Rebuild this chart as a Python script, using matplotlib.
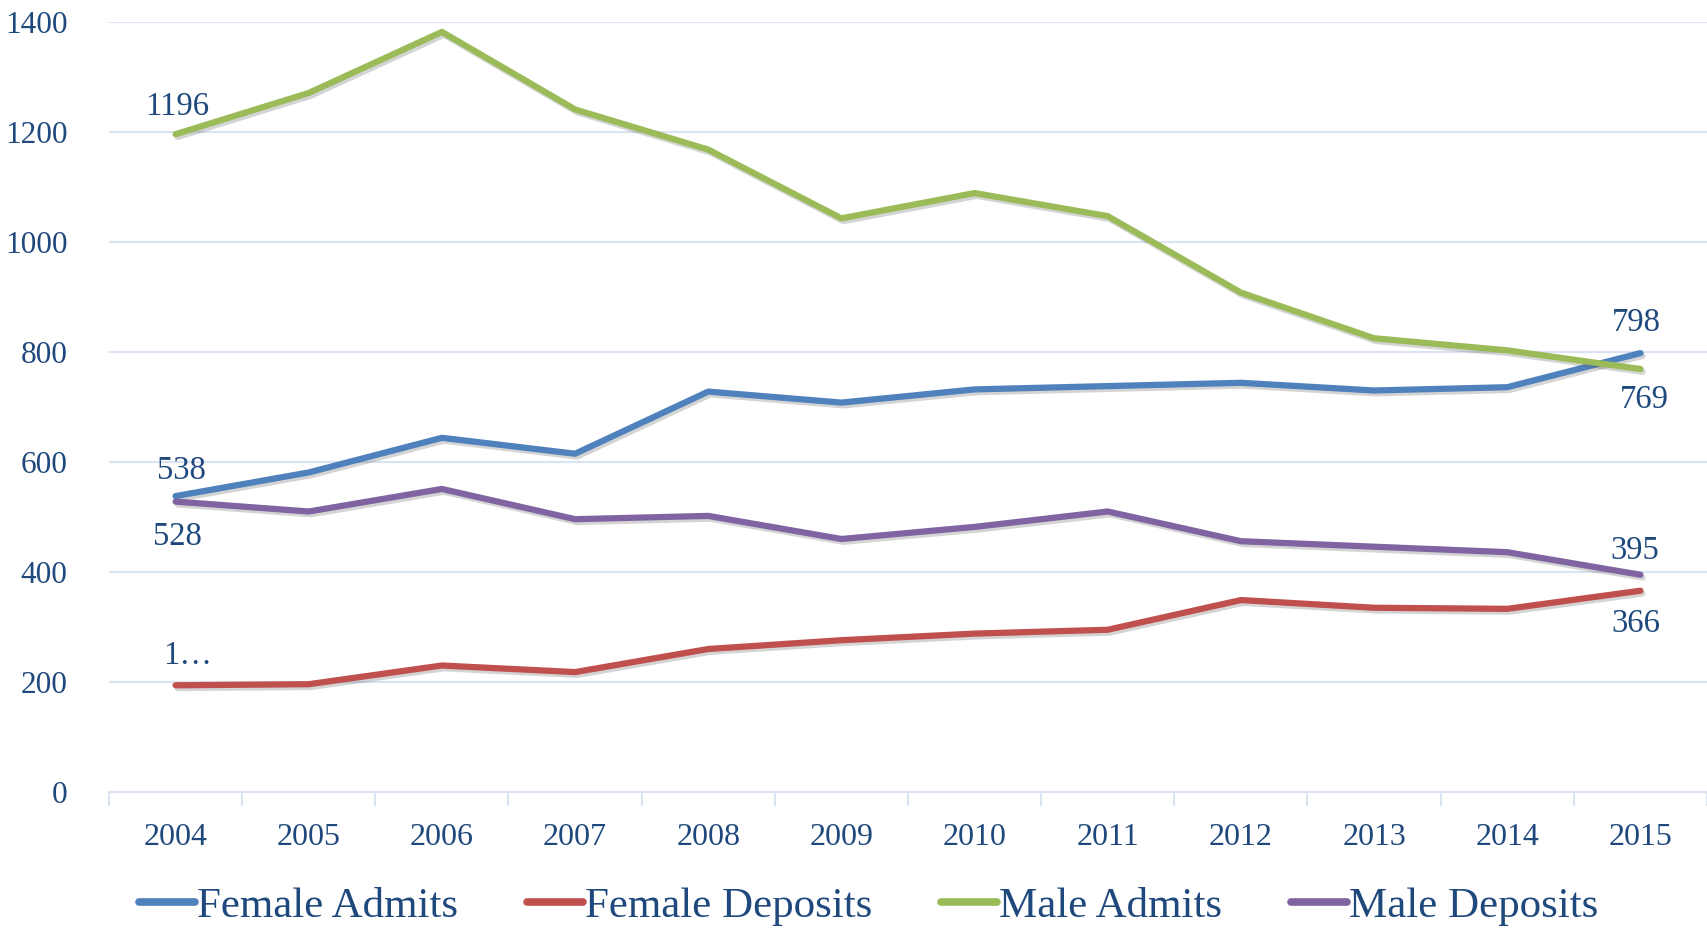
import numpy as np
import matplotlib
matplotlib.use('Agg')
import matplotlib.pyplot as plt
import matplotlib.patheffects as pe

# Data
years = ['2004', '2005', '2006', '2007', '2008', '2009', '2010', '2011', '2012', '2013', '2014', '2015']
female_admits = [538, 581, 644, 615, 728, 708, 732, 738, 744, 730, 736, 798]
female_deposits = [194, 196, 230, 218, 260, 276, 288, 295, 349, 335, 333, 366]
male_admits = [1196, 1271, 1382, 1241, 1168, 1043, 1089, 1047, 908, 825, 803, 769]
male_deposits = [528, 510, 551, 496, 502, 460, 482, 510, 456, 446, 436, 395]

series_names = ['Female Admits', 'Female Deposits', 'Male Admits', 'Male Deposits']
series_colors = ['#4F81BD', '#C0504D', '#9BBB59', '#8064A2']
text_color = '#1F497D'
grid_color = '#D9E3F1'

plt.rcParams['font.family'] = ['Liberation Serif', 'DejaVu Serif']

fig = plt.figure(figsize=(17.07, 9.30), dpi=100)
ax = fig.add_axes([109 / 1707, 1 - 792 / 930, 1 - 109 / 1707, (792 - 22) / 930])

x = np.arange(len(years))
shadow = [pe.SimpleLineShadow(offset=(1.5, -2), shadow_color='#555555', alpha=0.25), pe.Normal()]
all_series = [female_admits, female_deposits, male_admits, male_deposits]
for vals, name, col in zip(all_series, series_names, series_colors):
    ax.plot(x, vals, color=col, linewidth=4.5, label=name, solid_capstyle='round',
            solid_joinstyle='round', path_effects=shadow, zorder=3)

ax.set_xlim(-0.5, len(years) - 0.5)
ax.set_ylim(0, 1400)
ax.set_yticks(range(0, 1401, 200))
ax.yaxis.grid(True, color=grid_color, linewidth=1.5)
ax.set_axisbelow(True)

ax.set_xticks(x)
ax.set_xticklabels(years)
ax.set_xticks(np.arange(-0.5, len(years), 1), minor=True)
ax.tick_params(axis='x', which='major', length=0, pad=22, labelsize=23, labelcolor=text_color)
ax.tick_params(axis='x', which='minor', length=10, width=1.5, color=grid_color)
ax.tick_params(axis='y', length=0, pad=30, labelsize=22.5, labelcolor=text_color)

for s in ['top', 'right', 'left']:
    ax.spines[s].set_visible(False)
ax.spines['bottom'].set_color(grid_color)
ax.spines['bottom'].set_linewidth(1.5)

# data labels on first and last points
lbl = dict(fontsize=23.5, color=text_color, ha='center', va='center', textcoords='offset points')
ax.annotate('538', (0, female_admits[0]), xytext=(4, 18), **lbl)
ax.annotate('1…', (0, female_deposits[0]), xytext=(9, 21), **lbl)
ax.annotate('1196', (0, male_admits[0]), xytext=(1, 20), **lbl)
ax.annotate('528', (0, male_deposits[0]), xytext=(1, -25), **lbl)
ax.annotate('798', (11, female_admits[-1]), xytext=(-3, 22), **lbl)
ax.annotate('366', (11, female_deposits[-1]), xytext=(-3, -24), **lbl)
ax.annotate('769', (11, male_admits[-1]), xytext=(3, -22), **lbl)
ax.annotate('395', (11, male_deposits[-1]), xytext=(-4, 17), **lbl)

leg = fig.legend(loc='center', bbox_to_anchor=(0.509, 1 - 906 / 930), ncol=4, frameon=False,
                 fontsize=31, handlelength=1.3, handletextpad=0.05, columnspacing=1.6)
for t in leg.get_texts():
    t.set_color(text_color)
for h in leg.get_lines():
    h.set_linewidth(5.5)
    h.set_path_effects([])

fig.savefig('out.png', dpi=100)
